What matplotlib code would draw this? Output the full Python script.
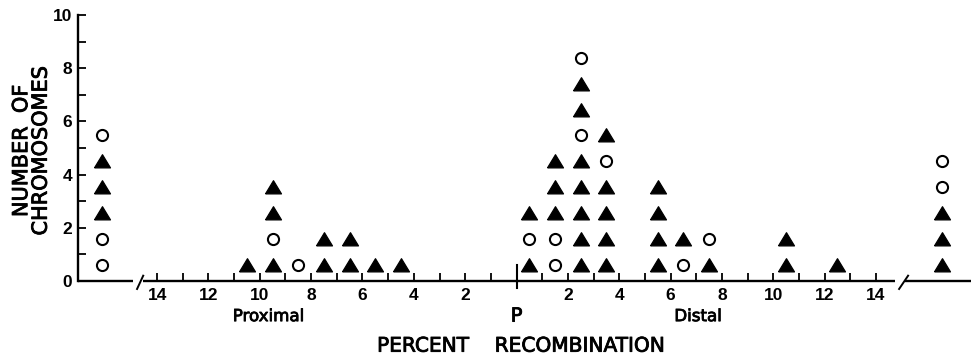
import matplotlib
matplotlib.use('Agg')
import matplotlib.pyplot as plt
import matplotlib.patheffects as pe
from matplotlib.ticker import FixedLocator, FixedFormatter

# percent recombination bins: proximal side negative, distal side positive
bins = [-10.5, -9.5, -8.5, -7.5, -6.5, -5.5, -4.5,
        0.5, 1.5, 2.5, 3.5, 5.5, 6.5, 7.5, 10.5, 12.5]
# stacked symbols from the bottom up: T = filled triangle, O = open circle
stacks = ['T', 'TOTT', 'O', 'TT', 'TT', 'T', 'T',
          'TOT', 'OOTTT', 'TTTTTOTTO', 'TTTTOT', 'TTTT', 'OT', 'TO', 'TT', 'T']
# off-scale columns at either end of the axis
beyond_proximal = 'OOTTTO'
beyond_distal = 'TTTOO'

x_ticks = list(range(-14, 15))
x_labels = ['' if t == 0 or t % 2 else str(abs(t)) for t in x_ticks]
y_major = [0, 2, 4, 6, 8, 10]
y_minor = [1, 3, 5, 7, 9]

LEFT_COL, RIGHT_COL = -16.14, 16.56
XMIN, XMAX = -17.08, 17.70
NUM_FONT = 'Liberation Sans'
WORD_FONT = 'DejaVu Sans'

fig = plt.figure(figsize=(9.71, 3.59), dpi=100)
ax = fig.add_axes([78 / 971, 78 / 359, 893 / 971, 266 / 359])

cols = [(LEFT_COL, beyond_proximal)] + list(zip(bins, stacks)) + [(RIGHT_COL, beyond_distal)]
tx, ty, ox, oy = [], [], [], []
for x, s in cols:
    for k, c in enumerate(s):
        y = 0.62 + 0.97 * k
        if c == 'T':
            tx.append(x); ty.append(y)
        else:
            ox.append(x); oy.append(y)

tri = [(-1, -0.8), (1, -0.8), (0, 0.85), (-1, -0.8)]
ax.plot(tx, ty, ls='none', marker=tri, ms=11.5, mfc='black', mec='black', mew=0.9, clip_on=False)
ax.plot(ox, oy, ls='none', marker='o', ms=8, mfc='white', mec='black', mew=1.5, clip_on=False)

ax.set_xlim(XMIN, XMAX)
ax.set_ylim(0, 10)

for side in ['top', 'right', 'bottom']:
    ax.spines[side].set_visible(False)
ax.spines['left'].set_linewidth(1.7)

# broken x axis drawn by hand
seg = dict(color='black', lw=1.7, clip_on=False, solid_capstyle='butt')
ax.plot([XMIN, -14.93], [0, 0], **seg)
ax.plot([-14.54, 14.74], [0, 0], **seg)
ax.plot([15.13, XMAX], [0, 0], **seg)
ax.plot([-14.78, -14.54], [-0.3, 0.2], color='black', lw=1.4, clip_on=False)
ax.plot([14.9, 15.25], [-0.3, 0.2], color='black', lw=1.4, clip_on=False)
ax.plot([0, 0], [-0.25, 0.6], color='black', lw=1.5, clip_on=False)

ax.xaxis.set_major_locator(FixedLocator(x_ticks))
ax.xaxis.set_major_formatter(FixedFormatter(x_labels))
ax.yaxis.set_major_locator(FixedLocator(y_major))
ax.yaxis.set_minor_locator(FixedLocator(y_minor))
ax.tick_params(axis='both', which='both', direction='in', length=6, width=1.3, colors='black')
ax.tick_params(axis='x', pad=5)
ax.tick_params(axis='y', pad=4)
for lab in ax.get_xticklabels() + ax.get_yticklabels():
    lab.set_fontfamily(NUM_FONT)
    lab.set_fontweight('bold')
    lab.set_fontsize(12.5)

# slightly heavier strokes, like the pen lettering of the original
heavy = [pe.withStroke(linewidth=0.6, foreground='black')]
txt = dict(fontfamily=WORD_FONT, ha='center', va='center', clip_on=False, path_effects=heavy)
ax.text(-9.66, -1.32, 'Proximal', fontsize=12, **txt)
ax.text(7.07, -1.32, 'Distal', fontsize=12, **txt)
ax.text(0, -1.32, 'P', fontsize=14, **txt)
ax.text(0.18, -2.45, 'PERCENT    RECOMBINATION', fontsize=14.5, **txt)

fig.text(31 / 971, 1 - 151 / 359, 'NUMBER  OF\nCHROMOSOMES', rotation=90, fontsize=15,
         fontfamily=WORD_FONT, ha='center', va='center', linespacing=0.97, path_effects=heavy)

fig.savefig('out.png', dpi=100)
